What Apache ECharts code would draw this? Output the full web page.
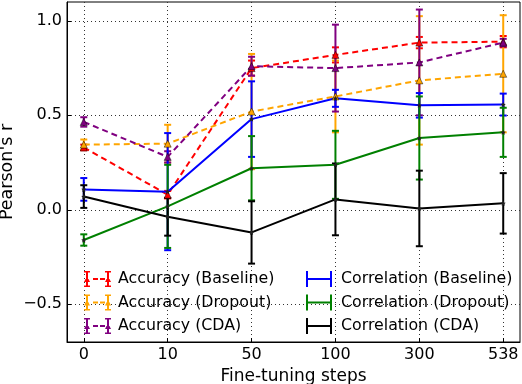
<!DOCTYPE html>
<html>
<head>
<meta charset="utf-8">
<script src="https://cdn.jsdelivr.net/npm/echarts@6/dist/echarts.min.js"></script>
<style>
  html, body { margin: 0; padding: 0; background: #fff; }
  #chart { width: 522px; height: 384px; }
</style>
</head>
<body>
<div id="chart"></div>
<script>
// x categories (fine-tuning steps) and y tick labels
const steps = ['0', '10', '50', '100', '300', '538'];
const yTicks = [-0.5, 0, 0.5, 1.0];

// accuracy series (dashed) + their error bars
const accBaseline = [0.33, 0.08, 0.75, 0.82, 0.885, 0.89];
const accBaselineErr = [0.015, 0.02, 0.04, 0.04, 0.03, 0.03];
const accDropout = [0.345, 0.35, 0.52, 0.60, 0.685, 0.72];
const accDropoutErr = [0.027, 0.1, 0.305, 0.19, 0.34, 0.31];
const accCda = [0.465, 0.28, 0.76, 0.75, 0.78, 0.885];
const accCdaErr = [0.025, 0.03, 0.05, 0.23, 0.28, 0.02];

// correlation series (solid) + their error bars
const corrBaseline = [0.108, 0.096, 0.48, 0.59, 0.553, 0.557];
const corrBaselineErr = [0.06, 0.31, 0.2, 0.045, 0.065, 0.058];
const corrDropout = [-0.16, 0.018, 0.22, 0.238, 0.38, 0.41];
const corrDropoutErr = [0.03, 0.22, 0.17, 0.18, 0.22, 0.13];
const corrCda = [0.07, -0.037, -0.12, 0.055, 0.007, 0.034];
const corrCdaErr = [0.06, 0.1, 0.165, 0.19, 0.2, 0.16];

const FONT = 'DejaVu Sans';

// legend glyphs: error bar - dashed line - error bar (with triangles) / error bar - line - error bar
const accIcon = 'path://M2,0L4,0L4,16L2,16Z M0,0L6,0L6,1.5L0,1.5Z M0,14.5L6,14.5L6,16L0,16Z M0,11L3,5L6,11Z ' +
  'M9,7L14,7L14,9L9,9Z M16,7L21,7L21,9L16,9Z ' +
  'M23,0L25,0L25,16L23,16Z M21,0L27,0L27,1.5L21,1.5Z M21,14.5L27,14.5L27,16L21,16Z M21,11L24,5L27,11Z';
const corrIcon = 'path://M0,0L2,0L2,16L0,16Z M0,7L26,7L26,9L0,9Z M24,0L26,0L26,16L24,16Z';

const starPath = 'path://M0,-10L2.9,-4L9.5,-3.1L4.7,1.5L5.9,8.1L0,5L-5.9,8.1L-4.7,1.5L-9.5,-3.1L-2.9,-4Z';

function toPairs(vals) {
  return vals.map((v, i) => [i, v]);
}
function toBars(vals, errs) {
  return vals.map((v, i) => [i, v - errs[i], v + errs[i]]);
}

function errorBars(name, color, vals, errs) {
  return {
    name: name,
    type: 'custom',
    data: toBars(vals, errs),
    encode: { x: 0, y: [1, 2] },
    silent: true,
    renderItem: function (params, api) {
      const x = api.value(0);
      const lo = api.coord([x, api.value(1)]);
      const hi = api.coord([x, api.value(2)]);
      const cap = 3.5;
      const style = { stroke: color, lineWidth: 2 };
      return {
        type: 'group',
        children: [
          { type: 'line', shape: { x1: lo[0], y1: lo[1], x2: hi[0], y2: hi[1] }, style: style },
          { type: 'line', shape: { x1: lo[0] - cap, y1: lo[1], x2: lo[0] + cap, y2: lo[1] }, style: style },
          { type: 'line', shape: { x1: hi[0] - cap, y1: hi[1], x2: hi[0] + cap, y2: hi[1] }, style: style }
        ]
      };
    }
  };
}

function lineSeries(name, color, vals, dashed) {
  return {
    name: name,
    type: 'line',
    data: toPairs(vals),
    symbol: dashed ? 'triangle' : starPath,
    symbolSize: dashed ? 7 : 5,
    itemStyle: dashed
      ? { color: color, borderColor: 'rgba(0,0,0,0.6)', borderWidth: 0.8 }
      : { color: '#222' },
    lineStyle: { color: color, width: 2, type: dashed ? [6, 4] : 'solid' },
    emphasis: { disabled: true },
    animation: false
  };
}

const sets = [
  { name: 'Accuracy (Baseline)', color: '#ff0000', vals: accBaseline, errs: accBaselineErr, dashed: true },
  { name: 'Accuracy (Dropout)', color: '#ffa500', vals: accDropout, errs: accDropoutErr, dashed: true },
  { name: 'Accuracy (CDA)', color: '#800080', vals: accCda, errs: accCdaErr, dashed: true },
  { name: 'Correlation (Baseline)', color: '#0000ff', vals: corrBaseline, errs: corrBaselineErr, dashed: false },
  { name: 'Correlation (Dropout)', color: '#008000', vals: corrDropout, errs: corrDropoutErr, dashed: false },
  { name: 'Correlation (CDA)', color: '#000000', vals: corrCda, errs: corrCdaErr, dashed: false }
];

const series = [];
sets.forEach(s => {
  series.push(errorBars(s.name, s.color, s.vals, s.errs));
  series.push(lineSeries(s.name, s.color, s.vals, s.dashed));
});

function legendBlock(items, left, icon) {
  return {
    orient: 'vertical',
    left: left,
    top: 271,
    padding: 0,
    itemWidth: icon === accIcon ? 27 : 26,
    itemHeight: 16,
    itemGap: 7.5,
    selectedMode: false,
    itemStyle: { borderWidth: 0 },
    textStyle: { fontFamily: FONT, fontSize: 15.8, color: '#000', lineHeight: 16, padding: [0, 0, 0, icon === accIcon ? 2 : 4] },
    data: items.map(s => ({ name: s.name, icon: icon, itemStyle: { color: s.color, borderWidth: 0 } }))
  };
}

const chart = echarts.init(document.getElementById('chart'), null, { renderer: 'canvas' });
chart.setOption({
  animation: false,
  backgroundColor: '#fff',
  textStyle: { fontFamily: FONT },
  grid: {
    left: 67, right: 2, top: 2, bottom: 42,
    containLabel: false,
    outerBoundsMode: 'none',
    show: true, borderColor: '#000', borderWidth: 1, backgroundColor: 'transparent'
  },
  legend: [
    legendBlock(sets.slice(0, 3), 84, accIcon),
    legendBlock(sets.slice(3), 306, corrIcon)
  ],
  xAxis: {
    type: 'value',
    min: -0.2,
    max: 5.2,
    name: 'Fine-tuning steps',
    nameLocation: 'middle',
    nameGap: 26,
    nameMoveOverlap: false,
    nameTextStyle: { fontFamily: FONT, fontSize: 17, color: '#000' },
    axisLine: { show: true, onZero: false, lineStyle: { color: '#000', width: 1 } },
    axisTick: { show: true, inside: true, length: 4, customValues: [0, 1, 2, 3, 4, 5], lineStyle: { color: '#000' } },
    axisLabel: {
      customValues: [0, 1, 2, 3, 4, 5],
      formatter: v => steps[Math.round(v)],
      fontFamily: FONT, fontSize: 16, color: '#000', margin: 5
    },
    splitLine: { show: true, lineStyle: { color: '#333', width: 1, type: [1, 3] } }
  },
  yAxis: {
    type: 'value',
    min: -0.7,
    max: 1.1,
    name: "Pearson's r",
    nameLocation: 'middle',
    nameGap: 51,
    nameMoveOverlap: false,
    nameTextStyle: { fontFamily: FONT, fontSize: 17.5, color: '#000' },
    axisLine: { show: true, onZero: false, lineStyle: { color: '#000', width: 1 } },
    axisTick: { show: true, inside: true, length: 4, customValues: yTicks, lineStyle: { color: '#000' } },
    axisLabel: {
      customValues: yTicks,
      formatter: v => (v < 0 ? '\u2212' : '') + Math.abs(v).toFixed(1),
      fontFamily: FONT, fontSize: 16, color: '#000', margin: 5
    },
    splitLine: { show: true, lineStyle: { color: '#333', width: 1, type: [1, 3] } }
  },
  series: series
});
</script>
</body>
</html>
